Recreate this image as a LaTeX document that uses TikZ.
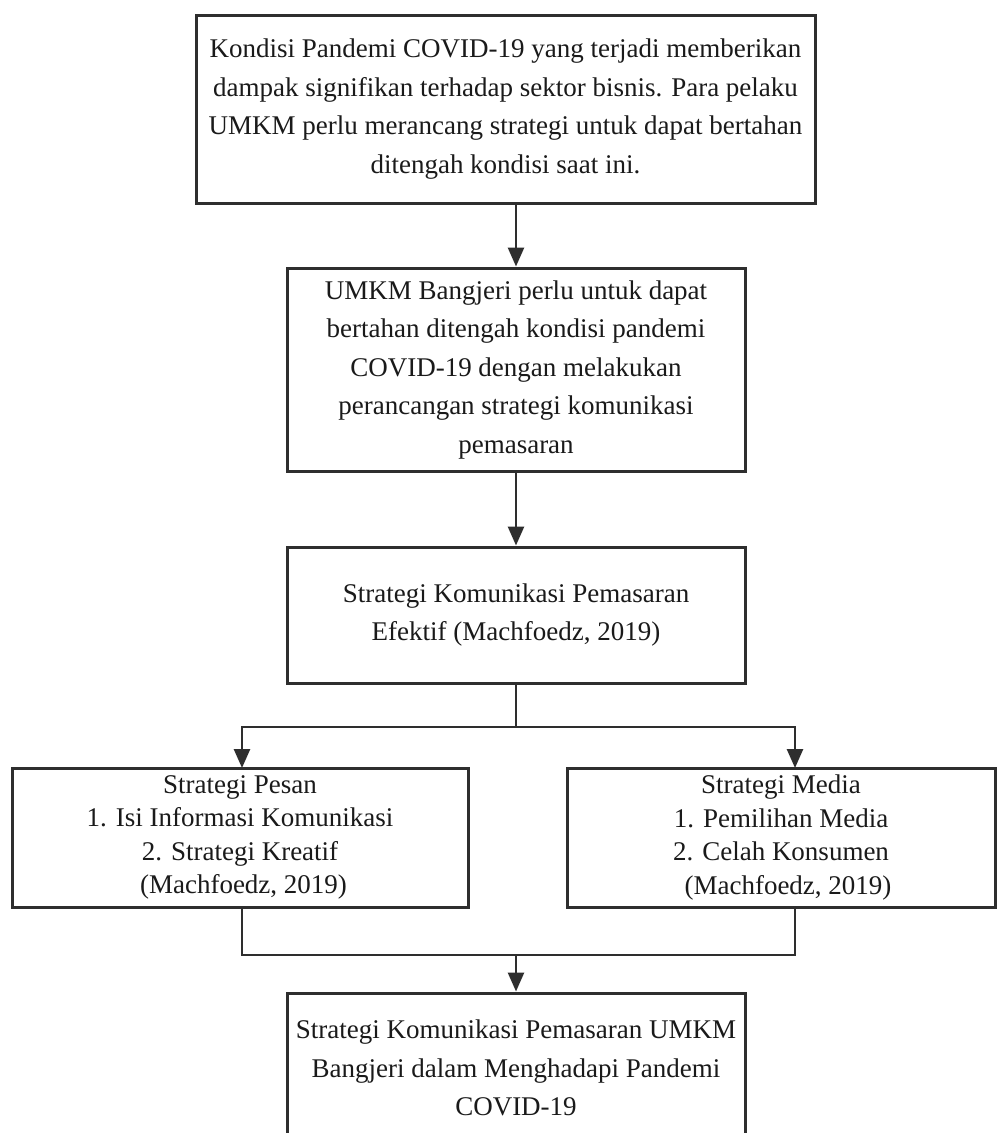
\documentclass[tikz,border=0pt]{standalone}
\usepackage{fontspec}
\setmainfont{Liberation Serif}
\usetikzlibrary{arrows.meta}
\definecolor{edge}{HTML}{2E2E2E}
\definecolor{ink}{HTML}{1A1A1A}
\begin{document}
\begin{tikzpicture}[x=1pt,y=-1pt,
  box/.style={draw=edge, line width=3pt, align=center, text=ink, inner sep=0pt,
    font=\fontsize{27}{38.5}\selectfont},
  smallbox/.style={box, font=\fontsize{27}{33.5}\selectfont},
  conn/.style={draw=edge, line width=2.6pt},
  arr/.style={conn, -{Triangle[width=16pt,length=19pt]}}]
\useasboundingbox (0,0) rectangle (1008,1133);
\fill[white] (0,0) rectangle (1008,1133);
\begin{scope}
\clip (0,0) rectangle (1008,1133);
\node[box, minimum width=619pt, minimum height=188pt] (b1) at (505.5,109)
  {Kondisi Pandemi COVID-19 yang terjadi memberikan\\
   dampak signifikan terhadap sektor bisnis. Para pelaku\\
   UMKM perlu merancang strategi untuk dapat bertahan\\
   ditengah kondisi saat ini.};
\node[box, minimum width=458pt, minimum height=203pt] (b2) at (516,369.5)
  {UMKM Bangjeri perlu untuk dapat\\
   bertahan ditengah kondisi pandemi\\
   COVID-19 dengan melakukan\\
   perancangan strategi komunikasi\\
   pemasaran};
\node[box, minimum width=458pt, minimum height=136pt] (b3) at (516,615)
  {Strategi Komunikasi Pemasaran\\
   Efektif (Machfoedz, 2019)};
\node[smallbox, minimum width=456pt, minimum height=139pt] (b4) at (240,837.5)
  {Strategi Pesan\\
   1. Isi Informasi Komunikasi\\
   2. Strategi Kreatif\\
   \hspace*{7pt}(Machfoedz, 2019)};
\node[smallbox, minimum width=428pt, minimum height=139pt] (b5) at (781,837.5)
  {Strategi Media\\
   1. Pemilihan Media\\
   2. Celah Konsumen\\
   \hspace*{14pt}(Machfoedz, 2019)};
\node[box, minimum width=458pt, minimum height=150pt] (b6) at (516,1068)
  {Strategi Komunikasi Pemasaran UMKM\\
   Bangjeri dalam Menghadapi Pandemi\\
   COVID-19};
\coordinate (j1) at (516,727);
\coordinate (j2) at (516,955);
\coordinate (t4) at (242,768);
\coordinate (t5) at (795,768);
\draw[arr] (b1.south -| b2.north) -- (b2.north);
\draw[arr] (b2.south) -- (b3.north);
\draw[conn] (b3.south) -- (j1);
\draw[arr] (j1) -| (t4);
\draw[arr] (j1) -| (t5);
\draw[conn] (t4 |- b4.south) |- (j2);
\draw[conn] (t5 |- b5.south) |- (j2);
\draw[arr] (j2) -- (b6.north);
\end{scope}
\end{tikzpicture}
\end{document}
